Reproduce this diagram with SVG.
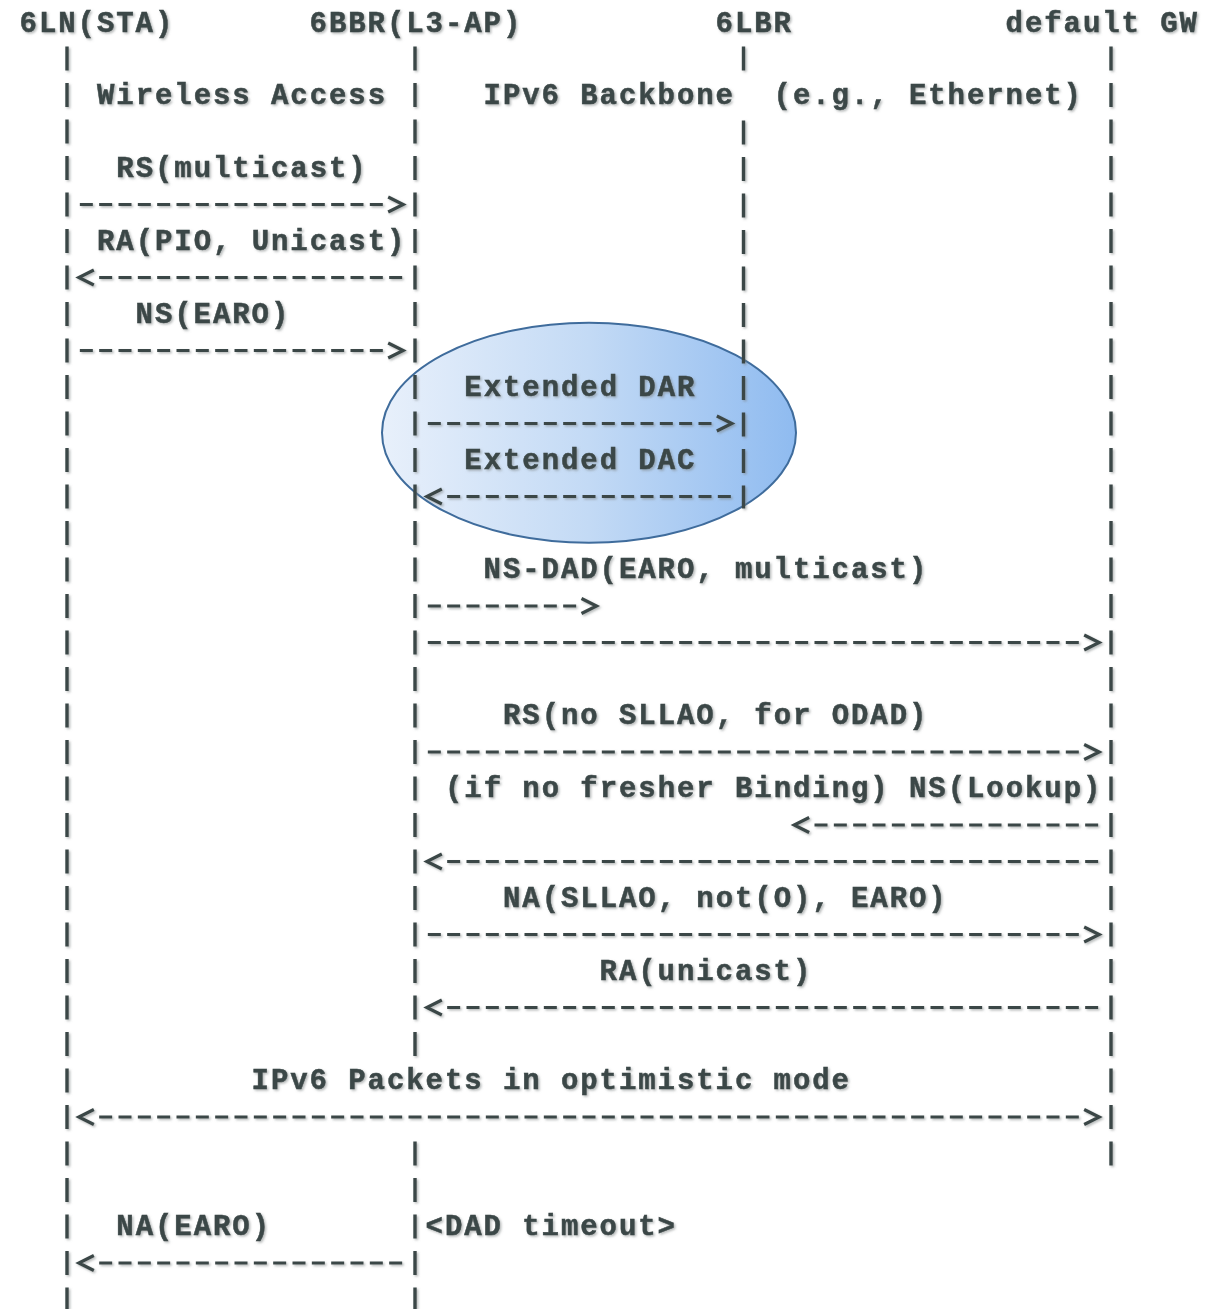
<svg xmlns="http://www.w3.org/2000/svg" xmlns:xlink="http://www.w3.org/1999/xlink" width="1219" height="1309" viewBox="0 0 1219 1309">
<style>
  .t { font-family: "Liberation Mono", "Courier New", monospace; font-weight: bold; font-size: 29px; letter-spacing: 1.93px; fill: #3b4747; stroke: #3b4747; stroke-width: 0.5; }
  .life { stroke: #3b4747; stroke-width: 3.4; stroke-dasharray: 24 12.5; fill: none; }
  .msg { stroke: #3b4747; stroke-width: 3.2; stroke-dasharray: 13 6.333; fill: none; }
  .chev { stroke: #3b4747; stroke-width: 3.2; fill: none; stroke-linejoin: miter; }
  .sh { filter: url(#shadow); }
</style>
<defs>
  <filter id="shadow" x="-5%" y="-5%" width="110%" height="110%">
    <feDropShadow dx="1.5" dy="1.5" stdDeviation="1" flood-color="#7a8080" flood-opacity="0.55"/>
  </filter>
  <linearGradient id="eg" x1="0" y1="0" x2="1" y2="0">
    <stop offset="0" stop-color="#e8f0fb"/>
    <stop offset="0.5" stop-color="#c3daf5"/>
    <stop offset="1" stop-color="#8fbbf0"/>
  </linearGradient>
  <path id="ra" class="chev" d="M-7.5,-7.5 L7.5,0 L-7.5,7.5"/>
  <path id="la" class="chev" d="M7.5,-7.5 L-7.5,0 L7.5,7.5"/>
</defs>
<rect width="1219" height="1309" fill="#ffffff"/>

<g id="dad-highlight">
  <ellipse cx="589" cy="432.7" rx="207" ry="110" fill="url(#eg)" stroke="#3f6c9c" stroke-width="2"/>
</g>

<g class="sh">
<g id="node-6ln">
  <text class="t" x="19.6" y="32">6LN(STA)</text>
  <line class="life" x1="67" y1="46.5" x2="67" y2="1309"/>
</g>
<g id="node-6bbr">
  <text class="t" x="309.6" y="32">6BBR(L3-AP)</text>
  <line class="life" x1="415" y1="46.5" x2="415" y2="1056"/>
  <line class="life" x1="415" y1="1141.5" x2="415" y2="1309"/>
</g>
<g id="node-6lbr">
  <text class="t" x="715.6" y="32">6LBR</text>
  <line class="life" x1="743.5" y1="46.5" x2="743.5" y2="70.5"/>
  <line class="life" x1="743.5" y1="120.5" x2="743.5" y2="508.5"/>
</g>
<g id="node-gw">
  <text class="t" x="1005.6" y="32">default GW</text>
  <line class="life" x1="1111" y1="46.5" x2="1111" y2="1165.5"/>
</g>

<g id="zones">
  <text class="t" x="97" y="103.5">Wireless Access</text>
  <text class="t" x="483.6" y="103.5">IPv6 Backbone</text>
  <text class="t" x="773.6" y="103.5">(e.g., Ethernet)</text>
</g>

<g id="connectors">
  <g id="m-rs">
    <text class="t" x="116.3" y="176.5">RS(multicast)</text>
    <line class="msg" x1="79.83" y1="204.5" x2="382.83" y2="204.5"/>
    <use xlink:href="#ra" x="395.67" y="204.5"/>
  </g>
  <g id="m-ra">
    <text class="t" x="97" y="249.5">RA(PIO, Unicast)</text>
    <use xlink:href="#la" x="86.33" y="277.5"/>
    <line class="msg" x1="99.17" y1="277.5" x2="402.17" y2="277.5"/>
  </g>
  <g id="m-ns">
    <text class="t" x="135.6" y="322.5">NS(EARO)</text>
    <line class="msg" x1="79.83" y1="350.5" x2="382.83" y2="350.5"/>
    <use xlink:href="#ra" x="395.67" y="350.5"/>
  </g>
  <g id="m-dar">
    <text class="t" x="464.3" y="395.5">Extended DAR</text>
    <line class="msg" x1="427.83" y1="423.5" x2="711.5" y2="423.5"/>
    <use xlink:href="#ra" x="724.33" y="423.5"/>
  </g>
  <g id="m-dac">
    <text class="t" x="464.3" y="468.5">Extended DAC</text>
    <use xlink:href="#la" x="434.33" y="496.5"/>
    <line class="msg" x1="447.17" y1="496.5" x2="730.83" y2="496.5"/>
  </g>
  <g id="m-nsdad">
    <text class="t" x="483.6" y="578">NS-DAD(EARO, multicast)</text>
    <line class="msg" x1="427.83" y1="606" x2="576.17" y2="606"/>
    <use xlink:href="#ra" x="589" y="606"/>
    <line class="msg" x1="427.83" y1="642.5" x2="1078.83" y2="642.5"/>
    <use xlink:href="#ra" x="1091.67" y="642.5"/>
  </g>
  <g id="m-rs-odad">
    <text class="t" x="503" y="724">RS(no SLLAO, for ODAD)</text>
    <line class="msg" x1="427.83" y1="752" x2="1078.83" y2="752"/>
    <use xlink:href="#ra" x="1091.67" y="752"/>
  </g>
  <g id="m-lookup">
    <text class="t" x="445" y="797">(if no fresher Binding) NS(Lookup)</text>
    <use xlink:href="#la" x="801.67" y="825"/>
    <line class="msg" x1="814.5" y1="825" x2="1098.17" y2="825"/>
    <use xlink:href="#la" x="434.33" y="861.5"/>
    <line class="msg" x1="447.17" y1="861.5" x2="1098.17" y2="861.5"/>
  </g>
  <g id="m-na">
    <text class="t" x="503" y="906.5">NA(SLLAO, not(O), EARO)</text>
    <line class="msg" x1="427.83" y1="934.5" x2="1078.83" y2="934.5"/>
    <use xlink:href="#ra" x="1091.67" y="934.5"/>
  </g>
  <g id="m-ra-unicast">
    <text class="t" x="599.6" y="979.5">RA(unicast)</text>
    <use xlink:href="#la" x="434.33" y="1007.5"/>
    <line class="msg" x1="447.17" y1="1007.5" x2="1098.17" y2="1007.5"/>
  </g>
  <g id="m-packets">
    <text class="t" x="251.6" y="1089">IPv6 Packets in optimistic mode</text>
    <use xlink:href="#la" x="86.33" y="1117"/>
    <line class="msg" x1="99.17" y1="1117" x2="1078.83" y2="1117"/>
    <use xlink:href="#ra" x="1091.67" y="1117"/>
  </g>
  <g id="m-na-earo">
    <text class="t" x="116.3" y="1235">NA(EARO)</text>
    <text class="t" x="425.6" y="1235">&lt;DAD timeout&gt;</text>
    <use xlink:href="#la" x="86.33" y="1263"/>
    <line class="msg" x1="99.17" y1="1263" x2="402.17" y2="1263"/>
  </g>
</g>
</g>
</svg>
